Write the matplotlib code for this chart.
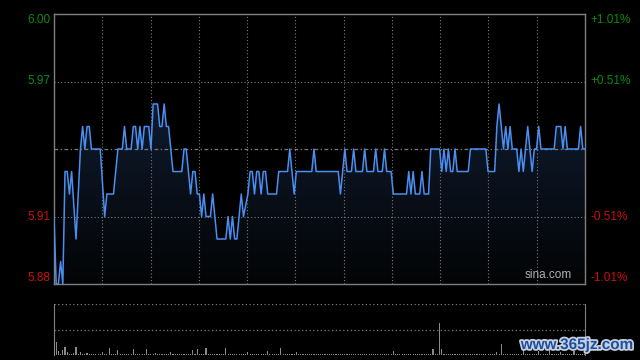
import matplotlib
matplotlib.use("Agg")
import matplotlib.pyplot as plt
import numpy as np
from matplotlib.colors import LinearSegmentedColormap
from matplotlib.patches import PathPatch
import matplotlib.patheffects as pe

plt.rcParams["font.family"] = ["Liberation Sans", "DejaVu Sans"]

# 分时价格拐点 (分钟序号, 价格)
minutes = [0, 1, 2, 3, 4, 5, 6, 7, 8, 10, 12, 13, 14, 15, 16, 17, 21, 23, 24, 27,
           29, 31, 32, 33, 35, 36, 37, 38, 39, 40, 41, 43, 44, 45, 47, 48, 49, 50, 51, 52,
           53, 54, 58, 59, 60, 62, 63, 64, 65, 66, 67, 68, 69, 71, 72, 74, 78, 79, 80, 81,
           82, 83, 84, 85, 86, 88, 89, 90, 91, 92, 93, 94, 95, 96, 97, 101, 102, 106, 107, 108,
           109, 110, 117, 118, 119, 129, 130, 131, 132, 133, 135, 136, 137, 140, 141, 142, 145, 146, 147, 149,
           150, 151, 153, 154, 160, 161, 162, 163, 164, 166, 167, 168, 170, 171, 175, 176, 177, 178, 179, 180,
           181, 182, 183, 188, 189, 196, 197, 200, 201, 202, 203, 204, 205, 206, 207, 208, 210, 211, 212, 213,
           214, 215, 216, 217, 218, 219, 220, 221, 227, 228, 230, 231, 232, 233, 238, 239, 240, 241]
prices = [5.91, 5.88, 5.88, 5.89, 5.88, 5.93, 5.93, 5.92, 5.93, 5.90, 5.94, 5.95, 5.94, 5.95, 5.95, 5.94, 5.94, 5.91, 5.92, 5.92,
          5.94, 5.94, 5.95, 5.94, 5.94, 5.95, 5.95, 5.94, 5.95, 5.94, 5.95, 5.95, 5.94, 5.96, 5.96, 5.95, 5.95, 5.96, 5.95, 5.95,
          5.94, 5.93, 5.93, 5.94, 5.94, 5.92, 5.93, 5.93, 5.92, 5.92, 5.91, 5.92, 5.91, 5.91, 5.92, 5.90, 5.90, 5.91, 5.90, 5.91,
          5.90, 5.90, 5.91, 5.92, 5.91, 5.92, 5.93, 5.93, 5.92, 5.93, 5.93, 5.92, 5.93, 5.93, 5.92, 5.92, 5.93, 5.93, 5.94, 5.93,
          5.92, 5.93, 5.93, 5.94, 5.93, 5.93, 5.92, 5.93, 5.94, 5.93, 5.93, 5.94, 5.93, 5.93, 5.94, 5.93, 5.93, 5.94, 5.93, 5.93,
          5.94, 5.93, 5.93, 5.92, 5.92, 5.93, 5.92, 5.93, 5.92, 5.92, 5.93, 5.92, 5.92, 5.94, 5.94, 5.93, 5.94, 5.93, 5.94, 5.93,
          5.93, 5.94, 5.93, 5.93, 5.94, 5.94, 5.93, 5.93, 5.95, 5.96, 5.95, 5.94, 5.95, 5.94, 5.95, 5.94, 5.94, 5.93, 5.94, 5.93,
          5.94, 5.95, 5.94, 5.93, 5.94, 5.94, 5.95, 5.94, 5.94, 5.95, 5.95, 5.94, 5.95, 5.94, 5.94, 5.95, 5.94, 5.94]
assert len(minutes) == len(prices)

# 每分钟成交量
volumes = [1600, 1300, 400, 150, 500, 770, 330, 150, 120, 180, 800, 140, 330, 120, 110, 200, 130, 100, 120, 140,
           110, 130, 300, 120, 100, 700, 150, 110, 120, 500, 130, 100, 90, 120, 140, 110, 600, 120, 100, 130,
           110, 120, 600, 130, 100, 110, 200, 120, 100, 90, 110, 130, 100, 300, 120, 110, 100, 90, 120, 110,
           100, 110, 120, 500, 130, 600, 110, 120, 100, 700, 110, 90, 100, 120, 130, 110, 100, 90, 700, 120,
           110, 100, 90, 120, 130, 110, 100, 120, 300, 110, 100, 90, 110, 120, 100, 130, 110, 400, 120, 100,
           110, 90, 100, 700, 120, 110, 100, 130, 110, 100, 300, 120, 110, 90, 100, 110, 120, 100, 130, 110,
           100, 90, 110, 120, 100, 110, 90, 100, 120, 110, 100, 130, 110, 90, 100, 120, 110, 100, 90, 110,
           120, 100, 110, 90, 100, 120, 110, 100, 90, 110, 100, 120, 110, 100, 400, 110, 90, 100, 120, 110,
           100, 110, 90, 120, 100, 110, 100, 90, 110, 120, 100, 130, 600, 110, 100, 3200, 600, 120, 110, 100,
           90, 110, 100, 120, 110, 100, 90, 110, 100, 120, 110, 100, 90, 110, 100, 120, 110, 100, 90, 110,
           100, 300, 120, 1100, 110, 100, 120, 90, 110, 100, 120, 110, 100, 500, 110, 90, 100, 120, 110, 100,
           400, 110, 100, 90, 120, 500, 110, 100, 90, 110, 300, 120, 100, 110, 90, 120, 400, 110, 100, 120,
           110, 100]

prev_close = 5.94
y_ticks = [6.00, 5.97, 5.94, 5.91, 5.88]
left_labels = ["6.00", "5.97", "", "5.91", "5.88"]
right_labels = ["+1.01%", "+0.51%", "", "-0.51%", "-1.01%"]

green = "#0a8c0a"
red = "#cc1010"
grid_c = "#7a7a7a"
n_min = 241

fig = plt.figure(figsize=(6.4, 3.6), dpi=100, facecolor="black")
ax = fig.add_axes([54 / 640, 1 - 284 / 360, 531 / 640, 270 / 360], facecolor="black")
axv = fig.add_axes([54 / 640, 1 - 355 / 360, 531 / 640, 51 / 360], facecolor="black")

# 渐变填充
poly = ax.fill_between(minutes, prices, 5.88, color="none")
clip = PathPatch(poly.get_paths()[0], transform=ax.transData, facecolor="none", edgecolor="none")
ax.add_patch(clip)
cmap = LinearSegmentedColormap.from_list("g", ["#030405", "#0f1b2e"])
grad = np.linspace(0, 1, 200).reshape(-1, 1)
img = ax.imshow(grad, extent=[0, n_min, 5.88, 5.96], origin="lower", aspect="auto", cmap=cmap, zorder=1)
img.set_clip_path(clip)

ax.plot(minutes, prices, color="#4a8ef0", lw=1.1, zorder=3)

ax.set_xlim(0, n_min)
ax.set_ylim(5.88, 6.00)

# 网格
for k in range(1, 11):
    ax.axvline(n_min * k / 11, color=grid_c, lw=0.8, ls=(0, (1, 2)), zorder=2)
for y in [5.97, 5.91]:
    ax.axhline(y, color=grid_c, lw=0.8, ls=(0, (1, 2)), zorder=2)
ax.axhline(prev_close, color=grid_c, lw=0.9, ls=(0, (3, 2, 1, 2)), zorder=2)

ax.set_xticks([])
ax.set_yticks([])
for s in ax.spines.values():
    s.set_color("#808080")
    s.set_linewidth(1)

# 坐标标签
for y, lt, rt in zip(y_ticks, left_labels, right_labels):
    if not lt:
        continue
    c = green if y > prev_close else red
    va = "center"
    if y == 6.00:
        va = "top"
    elif y == 5.88:
        va = "bottom"
    ax.text(-0.006, y, lt, color=c, fontsize=8.5, ha="right", va=va,
            transform=ax.get_yaxis_transform())
    ax.text(1.01, y, rt, color=c, fontsize=8.5, ha="left", va=va,
            transform=ax.get_yaxis_transform())

ax.text(0.975, 0.012, "sina.com", color="#b0b0b0", fontsize=8.5, ha="right", va="bottom",
        transform=ax.transAxes, zorder=4)

# 成交量
axv.bar(range(len(volumes)), volumes, width=0.5, color="#8a8a8a", zorder=3)
axv.set_xlim(0, n_min)
axv.set_ylim(0, 5100)
axv.axhline(5100, color=grid_c, lw=0.9, ls=(0, (1, 2)))
axv.axhline(2550, color=grid_c, lw=0.9, ls=(0, (1, 2)))
axv.set_xticks([])
axv.set_yticks([])
for side in ["top", "bottom"]:
    axv.spines[side].set_visible(False)
for side in ["left", "right"]:
    axv.spines[side].set_color("#808080")

fig.text(577 / 640, 1 - 345 / 360, "www.365jz.com", color="#1d4f9e", fontsize=11, fontweight="bold",
         ha="center", va="center",
         path_effects=[pe.withStroke(linewidth=2.5, foreground="#c8d0e0")])

plt.savefig("out.png", dpi=100, facecolor="black")
